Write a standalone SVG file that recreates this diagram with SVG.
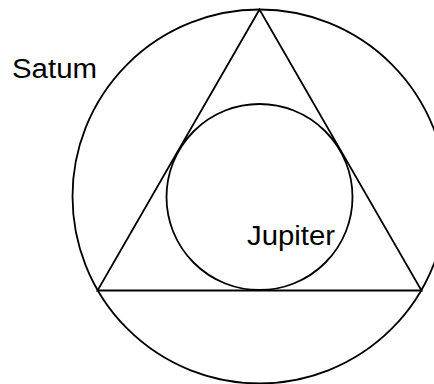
<svg xmlns="http://www.w3.org/2000/svg" width="434" height="384" viewBox="0 0 434 384">
<style>
.s{fill:none;stroke:#000;stroke-width:1.8}
.t{font-family:"Liberation Sans",Arial,sans-serif;font-size:27px;fill:#000}
</style>
<rect width="434" height="384" fill="#fff"/>
<g id="saturn">
<circle class="s" cx="259.5" cy="196.5" r="187"/>
<text class="t" x="12" y="78" textLength="85" lengthAdjust="spacingAndGlyphs">Satum</text>
</g>
<g id="triangle">
<polygon class="s" points="259.5,9.5 97.5,290.5 421.5,290.5"/>
</g>
<g id="jupiter">
<circle class="s" cx="259.5" cy="197" r="93"/>
<text class="t" x="247" y="245" textLength="88" lengthAdjust="spacingAndGlyphs">Jupiter</text>
</g>
</svg>
